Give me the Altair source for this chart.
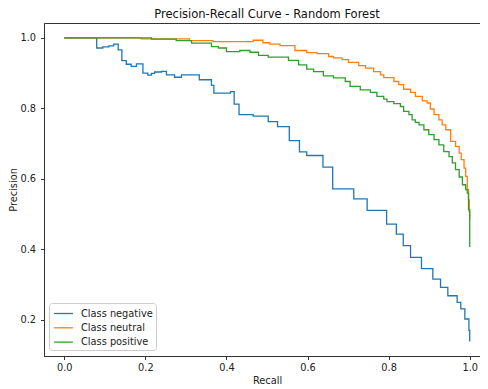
import altair as alt
import pandas as pd

# Class negative
recall_neg = [0.0, 0.080, 0.095, 0.110, 0.122, 0.133, 0.142, 0.153, 0.165, 0.178, 0.194,
              0.206, 0.215, 0.223, 0.240, 0.252, 0.272, 0.289, 0.333, 0.363, 0.369,
              0.410, 0.419, 0.431, 0.466, 0.503, 0.526, 0.555, 0.580, 0.598, 0.638,
              0.662, 0.714, 0.747, 0.795, 0.819, 0.836, 0.854, 0.881, 0.909, 0.928,
              0.946, 0.969, 0.978, 0.988, 0.998, 1.0]
prec_neg = [1.0, 0.971, 0.974, 0.977, 0.982, 0.966, 0.935, 0.925, 0.919, 0.926, 0.900,
            0.894, 0.899, 0.903, 0.905, 0.895, 0.888, 0.895, 0.881, 0.865, 0.843,
            0.847, 0.812, 0.782, 0.778, 0.762, 0.748, 0.708, 0.676, 0.666, 0.633,
            0.571, 0.543, 0.510, 0.471, 0.443, 0.410, 0.377, 0.345, 0.315, 0.292,
            0.268, 0.249, 0.231, 0.202, 0.170, 0.138]

# Class neutral
recall_neu = [0.0, 0.190, 0.309, 0.367, 0.466, 0.490, 0.507, 0.532, 0.569, 0.598, 0.623,
              0.652, 0.664, 0.685, 0.701, 0.726, 0.743, 0.763, 0.780, 0.788, 0.813,
              0.825, 0.837, 0.854, 0.866, 0.883, 0.895, 0.903, 0.912, 0.924, 0.932,
              0.941, 0.953, 0.965, 0.974, 0.979, 0.986, 0.990, 0.994, 0.997, 0.999, 1.0]
prec_neu = [1.0, 0.997, 0.992, 0.989, 0.993, 0.986, 0.982, 0.978, 0.964, 0.958, 0.955,
            0.947, 0.943, 0.938, 0.930, 0.921, 0.914, 0.904, 0.895, 0.887, 0.876,
            0.867, 0.854, 0.845, 0.834, 0.821, 0.815, 0.798, 0.782, 0.767, 0.753,
            0.739, 0.706, 0.692, 0.673, 0.654, 0.630, 0.607, 0.569, 0.540, 0.505, 0.484]

# Class positive
recall_pos = [0.0, 0.215, 0.276, 0.314, 0.363, 0.380, 0.400, 0.433, 0.458, 0.479, 0.503,
              0.553, 0.578, 0.598, 0.615, 0.639, 0.664, 0.693, 0.705, 0.730, 0.755,
              0.771, 0.788, 0.796, 0.813, 0.829, 0.837, 0.850, 0.858, 0.866, 0.875,
              0.887, 0.899, 0.912, 0.924, 0.936, 0.949, 0.957, 0.965, 0.974, 0.982,
              0.990, 0.994, 0.997, 1.0]
prec_pos = [1.0, 0.996, 0.992, 0.985, 0.975, 0.971, 0.961, 0.964, 0.959, 0.950, 0.945,
            0.936, 0.923, 0.911, 0.904, 0.892, 0.886, 0.876, 0.862, 0.852, 0.845,
            0.834, 0.826, 0.819, 0.813, 0.805, 0.791, 0.782, 0.767, 0.760, 0.753,
            0.739, 0.725, 0.711, 0.696, 0.677, 0.663, 0.645, 0.626, 0.605, 0.583,
            0.569, 0.559, 0.512, 0.406]

classes = ["Class negative", "Class neutral", "Class positive"]
colors = ["#1f77b4", "#ff7f0e", "#2ca02c"]
x_ticks = [0.0, 0.2, 0.4, 0.6, 0.8, 1.0]
y_ticks = [0.2, 0.4, 0.6, 0.8, 1.0]
x_domain = [-0.05, 1.05]
y_domain = [0.097, 1.042]

frames = []
for name, r, p in zip(classes, [recall_neg, recall_neu, recall_pos],
                      [prec_neg, prec_neu, prec_pos]):
    frames.append(pd.DataFrame({"Recall": r, "Precision": p, "Class": name}))
df = pd.concat(frames, ignore_index=True)

FONT = "DejaVu Sans"

chart = alt.Chart(df).mark_line(interpolate="step-after", strokeWidth=1.3).encode(
    x=alt.X("Recall:Q", scale=alt.Scale(domain=x_domain, nice=False, zero=False),
            axis=alt.Axis(values=x_ticks, format=".1f", title="Recall",
                          titlePadding=3, labelPadding=3)),
    y=alt.Y("Precision:Q", scale=alt.Scale(domain=y_domain, nice=False, zero=False),
            axis=alt.Axis(values=y_ticks, format=".1f", title="Precision",
                          titlePadding=1.5, labelPadding=5)),
    color=alt.Color("Class:N",
                    scale=alt.Scale(domain=classes, range=colors),
                    legend=alt.Legend(title=None, orient="none", legendX=5, legendY=280,
                                      symbolType="M-1.45,0H1.45", symbolSize=169,
                                      symbolStrokeWidth=1.3, symbolOffset=4,
                                      labelOffset=10, padding=3, rowPadding=1.3,
                                      labelFont=FONT, labelFontSize=9.8,
                                      labelColor="#222222",
                                      strokeColor="#cccccc",
                                      fillColor="rgba(255,255,255,0.8)",
                                      cornerRadius=3)),
).properties(
    width=446,
    height=333,
    title=alt.TitleParams("Precision-Recall Curve - Random Forest", font=FONT,
                          fontSize=11.5, fontWeight="normal", color="#111111",
                          anchor="middle", offset=3),
    autosize=alt.AutoSizeParams(type="none"),
    padding={"left": 36, "top": 15, "right": -10, "bottom": 33},
).configure_view(
    stroke="#333333", strokeWidth=1
).configure_axis(
    grid=False,
    domainColor="#333333", domainWidth=1,
    tickColor="#333333", tickSize=3.5, tickWidth=1,
    labelFont=FONT, labelFontSize=9.8, labelColor="#222222",
    titleFont=FONT, titleFontSize=9.8, titleFontWeight="normal", titleColor="#222222",
)

chart.save("out.html", embed_options={"renderer": "svg", "actions": False})
